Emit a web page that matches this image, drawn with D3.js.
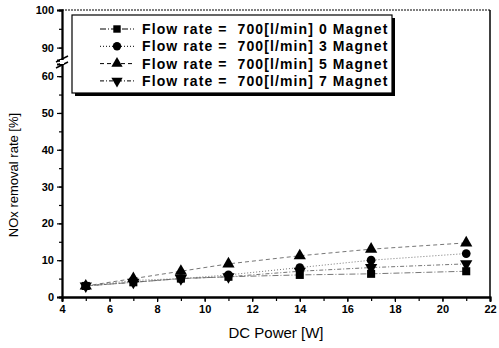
<!DOCTYPE html>
<html>
<head>
<meta charset="utf-8">
<script src="https://cdn.jsdelivr.net/npm/d3@7"></script>
<style>
  body { margin: 0; background: #fff; }
  text { font-family: Arial, "Liberation Sans", sans-serif; }
</style>
</head>
<body>
<div id="chart"></div>
<script>
'use strict';

// data
var power = [5, 7, 9, 11, 14, 17, 21]
var mag0 = [3, 4, 5, 5.5, 6, 6.3, 7]
var mag3 = [3, 4.5, 5, 6, 8, 10, 11.8]
var mag5 = [3, 5, 7, 9, 11.2, 13, 14.7]
var mag7 = [3, 4, 5, 5.5, 7, 8, 9]
var seriesNames = ['Flow rate =  700[l/min] 0 Magnet', 'Flow rate =  700[l/min] 3 Magnet',
                   'Flow rate =  700[l/min] 5 Magnet', 'Flow rate =  700[l/min] 7 Magnet']
var xTicks = [4, 6, 8, 10, 12, 14, 16, 18, 20, 22]
var yTicksLow = [0, 10, 20, 30, 40, 50, 60]
var yTicksHigh = [90, 100]

var series = [
  {name: seriesNames[0], values: mag0, sym: d3.symbolSquare, rot: 0, dash: '6,2,1,2'},
  {name: seriesNames[1], values: mag3, sym: d3.symbolCircle, rot: 0, dash: '1,2'},
  {name: seriesNames[2], values: mag5, sym: d3.symbolTriangle, rot: 0, dash: '4,3'},
  {name: seriesNames[3], values: mag7, sym: d3.symbolTriangle, rot: 180, dash: '4,2,1,2'}
]

var W = 499, H = 348
var svg = d3.select('#chart').append('svg').attr('width', W).attr('height', H)

var m = {left: 62, right: 490, top: 10, bottom: 297}
var breakY = 62

var x = d3.scaleLinear().domain([4, 22]).range([m.left, m.right])
var yLow = d3.scaleLinear().domain([0, 63.3]).range([m.bottom, breakY + 2])
var yHigh = d3.scaleLinear().domain([86.7, 100]).range([breakY - 2, m.top])

// frame
svg.append('line').attr('x1', m.left).attr('x2', m.right).attr('y1', m.top).attr('y2', m.top)
  .style('stroke', '#000').style('stroke-width', 1.2).style('stroke-dasharray', '2,1')
svg.append('line').attr('x1', m.right).attr('x2', m.right).attr('y1', m.top).attr('y2', m.bottom)
  .style('stroke', '#000').style('stroke-width', 1.5)

// x axis
var xa = svg.append('g').attr('class', 'xaxis')
  .attr('transform', 'translate(0,' + m.bottom + ')')
  .call(d3.axisBottom(x).tickValues(d3.range(4, 22.5, 1)).tickSize(4).tickFormat(''))
xa.append('g').call(d3.axisBottom(x).tickValues(xTicks).tickSize(5).tickFormat(d3.format('d')))

// y axes (broken)
var ya = svg.append('g').attr('transform', 'translate(' + m.left + ',0)')
ya.call(d3.axisLeft(yLow).tickValues(d3.range(0, 61, 5)).tickSize(3).tickFormat(''))
ya.append('g').call(d3.axisLeft(yLow).tickValues(yTicksLow).tickSize(5).tickFormat(d3.format('d')))
var yb = svg.append('g').attr('transform', 'translate(' + m.left + ',0)')
yb.call(d3.axisLeft(yHigh).tickValues([90, 95, 100]).tickSize(3).tickFormat(''))
yb.append('g').call(d3.axisLeft(yHigh).tickValues(yTicksHigh).tickSize(5).tickFormat(d3.format('d')))

svg.selectAll('.domain').style('stroke-width', 1.8)
svg.selectAll('.tick line').style('stroke-width', 1.2)
svg.selectAll('.tick text').style('font-size', '11px').style('font-weight', 'bold')
  .style('fill', '#000')

// break marks
;[breakY - 3, breakY + 3].forEach(function(yy) {
  svg.append('line').attr('x1', m.left - 6).attr('x2', m.left + 6)
    .attr('y1', yy + 3).attr('y2', yy - 3)
    .style('stroke', '#000').style('stroke-width', 1.4)
})
svg.append('rect').attr('x', m.left - 2).attr('y', breakY - 2).attr('width', 4).attr('height', 4)
  .style('fill', '#fff')

// lines and markers
var line = d3.line().x(function(d, i) { return x(power[i]) }).y(function(d) { return yLow(d) })
series.forEach(function(s) {
  svg.append('path').datum(s.values).attr('d', line)
    .style('fill', 'none').style('stroke', '#666').style('stroke-width', 0.9)
    .style('stroke-dasharray', s.dash)
  svg.selectAll(null).data(s.values).enter().append('path')
    .attr('d', d3.symbol().type(s.sym).size(s.sym === d3.symbolCircle ? 60 : 65))
    .attr('transform', function(d, i) {
      return 'translate(' + x(power[i]) + ',' + yLow(d) + ') rotate(' + s.rot + ')'
    })
    .style('fill', '#000')
})

// legend
var lg = svg.append('g').attr('transform', 'translate(72,15)')
lg.append('rect').attr('x', 3).attr('y', 3).attr('width', 320).attr('height', 78).style('fill', '#000')
lg.append('rect').attr('width', 320).attr('height', 78)
  .style('fill', '#fff').style('stroke', '#000').style('stroke-width', 1.2)
series.forEach(function(s, i) {
  var yy = 14 + i * 17.3
  lg.append('line').attr('x1', 28).attr('x2', 62).attr('y1', yy).attr('y2', yy)
    .style('stroke', '#000').style('stroke-width', 1).style('stroke-dasharray', s.dash)
  lg.append('path').attr('d', d3.symbol().type(s.sym).size(55))
    .attr('transform', 'translate(45,' + yy + ') rotate(' + s.rot + ')').style('fill', '#000')
  lg.append('text').attr('x', 70).attr('y', yy + 5).text(s.name)
    .style('font-size', '14px').style('font-weight', 'bold').style('letter-spacing', '1.1px')
    .style('fill', '#000').style('white-space', 'pre')
})

// axis titles
svg.append('text').attr('x', 276).attr('y', 338).attr('text-anchor', 'middle')
  .text('DC Power [W]').style('font-size', '15px')
svg.append('text').attr('transform', 'translate(18,' + 175 + ') rotate(-90)')
  .attr('text-anchor', 'middle').text('NOx removal rate [%]').style('font-size', '13px')
</script>
</body>
</html>
